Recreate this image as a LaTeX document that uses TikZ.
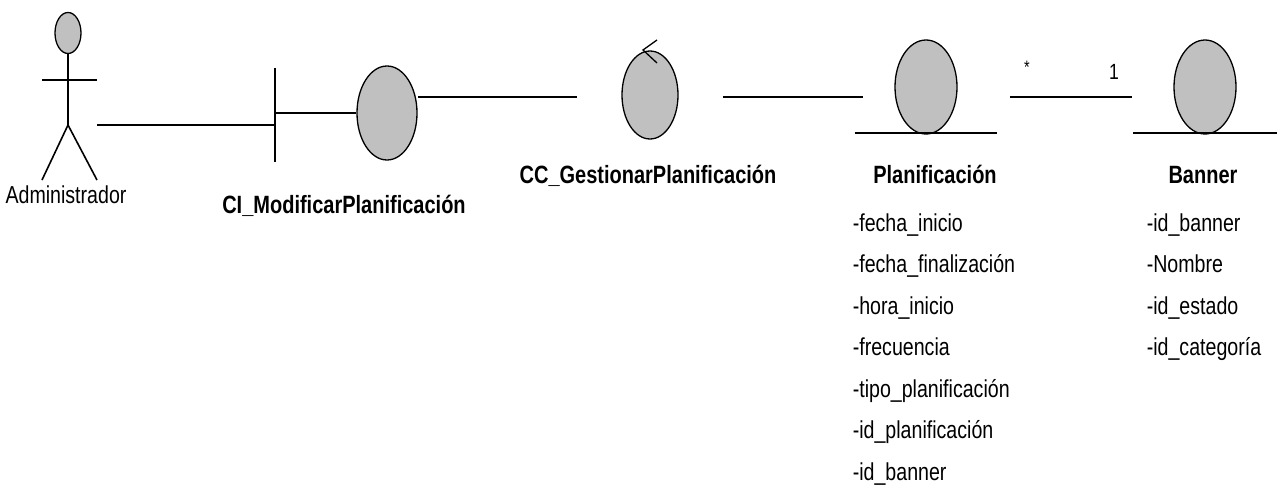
\documentclass[tikz,border=0pt]{standalone}
\usepackage{fontspec}
\setmainfont{Liberation Sans}[FakeStretch=0.8]
\usetikzlibrary{shapes.geometric}
\definecolor{objgray}{RGB}{192,192,192}
\begin{document}
\begin{tikzpicture}[x=1pt,y=-1pt,line width=1.6pt,
  obj/.style={ellipse,draw,fill=objgray,inner sep=0pt,line width=1.3pt},
  lbl/.style={font=\fontsize{25}{29}\selectfont\bfseries,inner sep=0pt,anchor=base},
  attr/.style={font=\fontsize{24.5}{28}\selectfont,anchor=base west,inner sep=0pt},
  mult/.style={font=\fontsize{22}{26}\selectfont,inner sep=0pt,anchor=base}]
\useasboundingbox (0,0) rectangle (1280,487);

% actor
\node[obj,minimum width=26,minimum height=41] (head) at (68,33) {};
\coordinate (hip) at (68,125);
\draw (head.south) -- (hip);
\draw (42,80) -- (97,80);
\draw (42,180) -- (hip) -- (97,180);
\node[attr,anchor=base] (actlbl) at (66,203) {Administrador};

% boundary object
\coordinate (bartop) at (275,68);
\coordinate (barbot) at (275,162);
\draw (bartop) -- (barbot);
\node[obj,minimum width=60,minimum height=94] (bnd) at (387,113) {};
\draw (275,113) -- (bnd.west);
\node[lbl] (bndlbl) at (344,213) {CI\_ModificarPlanificación};

% control object
\node[obj,minimum width=56,minimum height=88] (ctl) at (650,95) {};
\draw[line width=1.3pt] (657,40) -- (643,50) -- (657,63);
\node[lbl] (ctllbl) at (648,183) {CC\_GestionarPlanificación};

% entity: Planificacion
\node[obj,minimum width=62,minimum height=94] (plan) at (926,87) {};
\draw (855,133) -- (997,133);
\node[lbl] (planlbl) at (935,183) {Planificación};
\foreach \t [count=\i from 0] in {-fecha\_inicio,-fecha\_finalización,-hora\_inicio,-frecuencia,-tipo\_planificación,-id\_planificación,-id\_banner}
  \node[attr] at (852,231+41.5*\i) {\t};

% entity: Banner
\node[obj,minimum width=62,minimum height=94] (ban) at (1205,87) {};
\draw (1133,133) -- (1277,133);
\node[lbl] (banlbl) at (1203,183) {Banner};
\foreach \t [count=\i from 0] in {-id\_banner,-Nombre,-id\_estado,-id\_categoría}
  \node[attr] at (1146,231+41.5*\i) {\t};

% links
\coordinate (l1a) at (97,125);
\coordinate (l1b) at (275,125);
\draw (l1a) -- (l1b);
\coordinate (l2a) at (418,97);
\coordinate (l2b) at (577,97);
\draw (l2a) -- (l2b);
\coordinate (l3a) at (723,97);
\coordinate (l3b) at (863,97);
\draw (l3a) -- (l3b);
\coordinate (l4a) at (1010,97);
\coordinate (l4b) at (1132,97);
\draw (l4a) -- (l4b);
\node[mult,font=\fontsize{18}{20}\selectfont] (m1) at (1027,74) {*};
\node[mult] (m2) at (1114,80) {1};
\end{tikzpicture}
\end{document}
